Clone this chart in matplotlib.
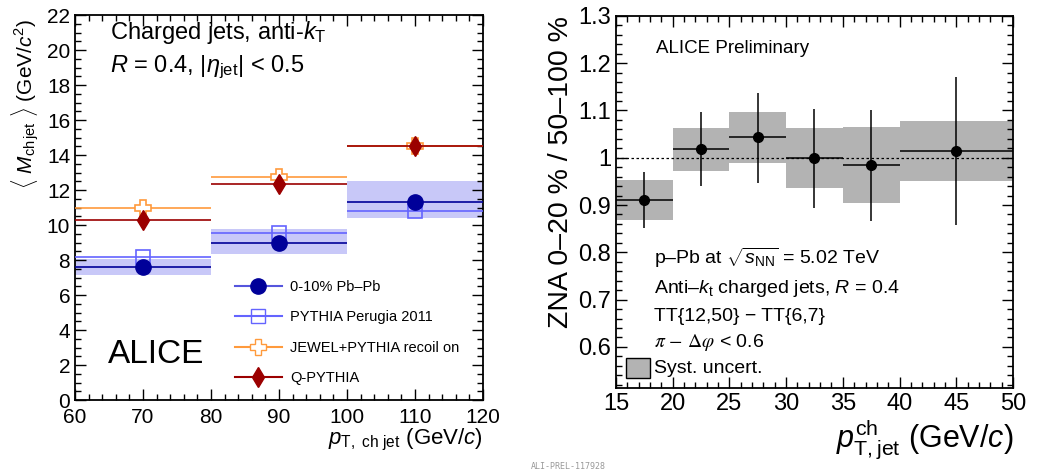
import numpy as np
import matplotlib
matplotlib.use('Agg')
from matplotlib import pyplot as plt
from matplotlib.lines import Line2D
from matplotlib.patches import Rectangle
from matplotlib.ticker import MultipleLocator

plt.rcParams['font.family'] = ['Liberation Sans', 'DejaVu Sans']
plt.rcParams['mathtext.fontset'] = 'custom'
plt.rcParams['mathtext.rm'] = 'Liberation Sans'
plt.rcParams['mathtext.it'] = 'Liberation Sans:italic'
plt.rcParams['mathtext.bf'] = 'Liberation Sans:bold'

# ---- left panel: jet mass vs pT ----
pt_centers = [70, 90, 110]
pt_halfwidth = [10, 10, 10]
pbpb = [7.6, 9.0, 11.33]
pbpb_sys_lo = [7.15, 8.32, 10.42]
pbpb_sys_hi = [8.05, 9.77, 12.51]
pythia = [8.15, 9.56, 10.78]
jewel = [11.0, 12.72, 14.5]
qpythia = [10.27, 12.32, 14.49]

# ---- right panel: ZNA ratio ----
bin_lo = [15, 20, 25, 30, 35, 40]
bin_hi = [20, 25, 30, 35, 40, 50]
ratio = [0.911, 1.018, 1.043, 1.000, 0.984, 1.014]
stat_lo = [0.851, 0.940, 0.947, 0.894, 0.867, 0.858]
stat_hi = [0.970, 1.096, 1.138, 1.104, 1.101, 1.171]
sys_lo = [0.868, 0.972, 0.989, 0.937, 0.904, 0.951]
sys_hi = [0.953, 1.063, 1.096, 1.062, 1.065, 1.078]

fig = plt.figure(figsize=(10.38, 4.73), dpi=100)
ax1 = fig.add_axes([0.0723, 0.1543, 0.3930, 0.8139])
ax2 = fig.add_axes([0.5934, 0.1797, 0.3825, 0.7866])


def style_axis(ax, fs):
    ax.tick_params(which='both', direction='in', top=True, right=True,
                   labelsize=fs, width=1.0)
    ax.tick_params(which='major', length=8)
    ax.tick_params(which='minor', length=4)
    for s in ax.spines.values():
        s.set_linewidth(1.3)


# left panel
blue_dark = '#000099'
blue_light = '#6464ff'
orange = '#ff9a3c'
red = '#9b0000'
x = np.array(pt_centers)
xe = np.array(pt_halfwidth)
for xc, w, lo, hi in zip(pt_centers, pt_halfwidth, pbpb_sys_lo, pbpb_sys_hi):
    ax1.add_patch(Rectangle((xc - w, lo), 2 * w, hi - lo, facecolor='#c8c8f8',
                            edgecolor='none', zorder=1))
ax1.errorbar(x, pythia, xerr=xe, fmt='s', ms=10, mfc='none', mec=blue_light,
             mew=1.2, color=blue_light, lw=1.2, zorder=3)
ax1.errorbar(x, jewel, xerr=xe, fmt='P', ms=12, mfc='white', mec=orange,
             mew=1.2, color=orange, lw=1.2, zorder=3)
ax1.errorbar(x, qpythia, xerr=xe, fmt='d', ms=10, mfc=red, mec=red,
             color=red, lw=1.2, zorder=4)
ax1.errorbar(x, pbpb, xerr=xe, fmt='o', ms=11, mfc=blue_dark, mec=blue_dark,
             color=blue_dark, lw=1.2, zorder=5)

ax1.set_xlim(60, 120)
ax1.set_ylim(0, 22)
ax1.xaxis.set_major_locator(MultipleLocator(10))
ax1.xaxis.set_minor_locator(MultipleLocator(2))
ax1.yaxis.set_major_locator(MultipleLocator(2))
ax1.yaxis.set_minor_locator(MultipleLocator(0.5))
style_axis(ax1, 15)
ax1.tick_params(axis='x', which='both', pad=6)
ax1.set_ylabel(r'$\langle\ M_{\rm ch\,jet}\ \rangle$ (GeV/$c^{2}$)',
               fontsize=15, y=0.99, ha='right', labelpad=4)
ax1.set_xlabel(r'$p_{\rm T,\ ch\ jet}$ (GeV/$c$)', fontsize=16, x=1.0,
               ha='right', labelpad=0)
ax1.text(0.085, 0.938, r'Charged jets, anti-$k_{\rm T}$', transform=ax1.transAxes,
         fontsize=17)
ax1.text(0.085, 0.852, r'$R$ = 0.4, |$\eta_{\rm jet}$| < 0.5',
         transform=ax1.transAxes, fontsize=17)
ax1.text(0.08, 0.095, 'ALICE', transform=ax1.transAxes, fontsize=24)

handles = [
    Line2D([], [], color='#5555dd', marker='o', ms=11, mfc=blue_dark, mec=blue_dark),
    Line2D([], [], color=blue_light, marker='s', ms=10, mfc='none', mec=blue_light),
    Line2D([], [], color=orange, marker='P', ms=12, mfc='white', mec=orange),
    Line2D([], [], color=red, marker='d', ms=10, mfc=red, mec=red),
]
labels = ['0-10% Pb\u2013Pb', 'PYTHIA Perugia 2011', 'JEWEL+PYTHIA recoil on',
          'Q-PYTHIA']
ax1.legend(handles, labels, loc='lower left', bbox_to_anchor=(0.36, 0.005),
           frameon=False, fontsize=10.5, handlelength=3.2, labelspacing=1.12,
           handletextpad=0.6)

# right panel
xc = (np.array(bin_lo) + np.array(bin_hi)) / 2
xw = (np.array(bin_hi) - np.array(bin_lo)) / 2
r = np.array(ratio)
yerr = [r - np.array(stat_lo), np.array(stat_hi) - r]
for lo, hi, slo, shi in zip(bin_lo, bin_hi, sys_lo, sys_hi):
    ax2.add_patch(Rectangle((lo, slo), hi - lo, shi - slo, facecolor='#b3b3b3',
                            edgecolor='none', zorder=1))
ax2.axhline(1.0, color='black', ls=(0, (2, 2)), lw=0.9, zorder=2)
ax2.errorbar(xc, r, xerr=xw, yerr=yerr, fmt='o', ms=7, color='black',
             lw=1.1, zorder=3)
ax2.set_xlim(15, 50)
ax2.set_ylim(0.513, 1.3)
ax2.xaxis.set_major_locator(MultipleLocator(5))
ax2.xaxis.set_minor_locator(MultipleLocator(1))
ax2.yaxis.set_major_locator(MultipleLocator(0.1))
ax2.yaxis.set_minor_locator(MultipleLocator(0.02))
style_axis(ax2, 17)
ax2.set_yticks([0.6, 0.7, 0.8, 0.9, 1.0, 1.1, 1.2, 1.3])
ax2.set_yticklabels(['0.6', '0.7', '0.8', '0.9', '1', '1.1', '1.2', '1.3'])
ax2.set_ylabel('ZNA 0\u201320 % / 50\u2013100 %', fontsize=20.5, y=1.0,
               ha='right', labelpad=3)
ax2.set_xlabel(r'$p_{\rm T,jet}^{\rm ch}$ (GeV/$c$)', fontsize=22, x=1.0,
               ha='right', labelpad=2)
ax2.text(0.1, 0.9, 'ALICE Preliminary', transform=ax2.transAxes, fontsize=13.5)
tx = 0.097
ax2.text(tx, 0.332, 'p\u2013Pb at $\\sqrt{s_{\\rm NN}}$ = 5.02 TeV',
         transform=ax2.transAxes, fontsize=14)
ax2.text(tx, 0.256, 'Anti\u2013$k_{\\rm t}$ charged jets, $R$ = 0.4',
         transform=ax2.transAxes, fontsize=14)
ax2.text(tx, 0.18, 'TT{12,50} \u2212 TT{6,7}', transform=ax2.transAxes,
         fontsize=14)
ax2.text(tx, 0.11, r'$\pi\,-\,\Delta\varphi$ < 0.6', transform=ax2.transAxes,
         fontsize=14, math_fontfamily='stix')
ax2.add_patch(Rectangle((0.025, 0.027), 0.06, 0.054, transform=ax2.transAxes,
                        facecolor='#b3b3b3', edgecolor='black', lw=1.0,
                        clip_on=False, zorder=4))
ax2.text(tx, 0.04, 'Syst. uncert.', transform=ax2.transAxes, fontsize=14)

fig.text(0.511, 0.008, 'ALI-PREL-117928', fontsize=6, color='#999999',
         family='DejaVu Sans Mono')

fig.savefig('out.png', dpi=100)
